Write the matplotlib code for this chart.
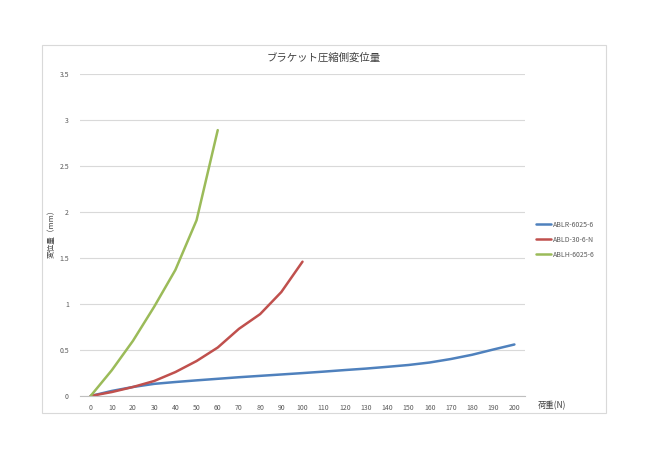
import matplotlib
matplotlib.use("Agg")
import matplotlib.pyplot as plt
from matplotlib.patches import Rectangle

plt.rcParams['font.family'] = ['Noto Sans CJK JP', 'DejaVu Sans']

loads = list(range(0, 201, 10))
ablr = [0, 0.055, 0.098, 0.132, 0.152, 0.17, 0.187, 0.204, 0.219, 0.234, 0.249,
        0.265, 0.282, 0.298, 0.317, 0.337, 0.364, 0.402, 0.448, 0.505, 0.56]
ablr_loads = loads
abld = [0, 0.043, 0.098, 0.163, 0.26, 0.38, 0.527, 0.73, 0.89, 1.13, 1.46]
abld_loads = loads[:11]
ablh = [0, 0.28, 0.6, 0.97, 1.37, 1.91, 2.89]
ablh_loads = loads[:7]

series_names = ['ABLR-6025-6', 'ABLD-30-6-N', 'ABLH-6025-6']
colors = ['#4F81BD', '#C0504D', '#9BBB59']
yticks = [0, 0.5, 1, 1.5, 2, 2.5, 3, 3.5]
yticklabels = ['0', '0.5', '1', '1.5', '2', '2.5', '3', '3.5']

fig = plt.figure(figsize=(6.5, 4.59), dpi=100)
fig.patch.set_facecolor('white')
fig.patches.append(Rectangle((42/650, 1-413/459), 564/650, 368/459,
                             transform=fig.transFigure, fill=False,
                             edgecolor='#d9d9d9', linewidth=0.8))

ax = fig.add_axes([80/650, 1-396/459, 445/650, 322/459])
for xs, ys, name, c in zip([ablr_loads, abld_loads, ablh_loads], [ablr, abld, ablh],
                           series_names, colors):
    ax.plot(xs, ys, color=c, linewidth=1.8, label=name, solid_capstyle='round')

ax.set_xlim(-5, 205)
ax.set_ylim(0, 3.5)
ax.set_xticks(loads)
ax.set_xticklabels([str(v) for v in loads])
ax.set_yticks(yticks)
ax.set_yticklabels(yticklabels)
ax.grid(axis='y', color='#d9d9d9', linewidth=0.8)
ax.set_axisbelow(True)
for s in ['top', 'right', 'left']:
    ax.spines[s].set_visible(False)
ax.spines['bottom'].set_color('#bfbfbf')
ax.spines['bottom'].set_linewidth(0.8)
ax.tick_params(axis='both', length=0, labelsize=5, labelcolor='#595959', pad=6)
ax.tick_params(axis='y', pad=8)

fig.text(324/650, 1-58/459, 'ブラケット圧縮側変位量', ha='center', va='center',
         fontsize=7.5, color='#404040')
fig.text(52/650, 1-232/459, '変位量（mm）', ha='center', va='center', rotation=90,
         fontsize=5.5, color='#404040')
fig.text(538/650, 1-406/459, '荷重(N)', ha='left', va='center',
         fontsize=6, color='#404040')

leg = ax.legend(loc='upper left', bbox_to_anchor=(533/650, 1-218/459),
                bbox_transform=fig.transFigure, frameon=False, fontsize=5,
                handlelength=2.2, handletextpad=0.3, labelspacing=1.0,
                borderaxespad=0)
for t in leg.get_texts():
    t.set_color('#595959')

fig.savefig('out.png', dpi=100)
